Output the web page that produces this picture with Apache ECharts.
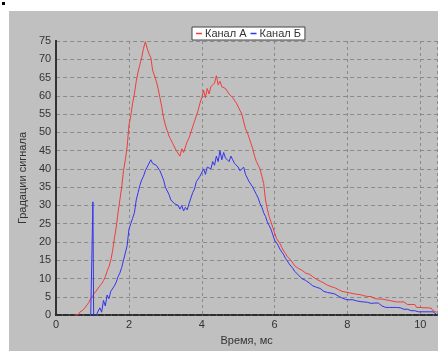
<!DOCTYPE html>
<html>
<head>
<meta charset="utf-8">
<script src="https://cdn.jsdelivr.net/npm/echarts@6/dist/echarts.min.js"></script>
<style>
html,body{margin:0;padding:0;background:#fff;width:438px;height:351px;overflow:hidden;}
#dot{position:absolute;left:2px;top:2px;width:3px;height:3px;background:#000;}
#chart{position:absolute;left:9px;top:11px;width:429px;height:340px;background:#c0c0c0;}
</style>
</head>
<body>
<div id="dot"></div>
<div id="chart"></div>
<script>
// Time, ms
var times = [
0.50,0.55,0.60,0.65,0.70,0.75,0.80,0.85,0.90,0.95,
1.00,1.01,1.02,1.03,1.05,1.10,1.15,1.20,1.25,1.30,1.35,1.40,1.45,1.50,1.55,1.60,1.65,1.70,1.75,1.80,1.85,1.90,1.95,
2.00,2.05,2.10,2.15,2.20,2.25,2.30,2.35,2.40,2.45,2.50,2.55,2.60,2.65,2.70,2.75,2.80,2.85,2.90,2.95,
3.00,3.05,3.10,3.15,3.20,3.25,3.30,3.35,3.40,3.45,3.50,3.55,3.60,3.65,3.70,3.75,3.80,3.85,3.90,3.95,
4.00,4.05,4.10,4.15,4.20,4.25,4.30,4.35,4.40,4.45,4.50,4.55,4.60,4.65,4.70,4.75,4.80,4.85,4.90,4.95,
5.00,5.05,5.10,5.15,5.20,5.25,5.30,5.35,5.40,5.45,5.50,5.55,5.60,5.65,5.70,5.75,5.80,5.85,5.90,5.95,
6.00,6.05,6.10,6.15,6.20,6.25,6.30,6.35,6.40,6.45,6.50,6.55,6.60,6.65,6.70,6.75,6.80,6.85,6.90,6.95,
7.00,7.05,7.10,7.15,7.20,7.25,7.30,7.35,7.40,7.45,7.50,7.55,7.60,7.65,7.70,7.75,7.80,7.85,7.90,7.95,
8.00,8.05,8.10,8.15,8.20,8.25,8.30,8.35,8.40,8.45,8.50,8.55,8.60,8.65,8.70,8.75,8.80,8.85,8.90,8.95,
9.00,9.05,9.10,9.15,9.20,9.25,9.30,9.35,9.40,9.45,9.50,9.55,9.60,9.65,9.70,9.75,9.80,9.85,9.90,9.95,
10.00,10.05,10.10,10.15,10.20,10.25,10.30,10.35,10.40,10.45
];
// Канал А (red)
var channelA = [
0,0,0,0.8,1.0,1.5,2.0,2.8,3.5,4.6,
5.2,5.3,5.4,5.5,6.0,6.6,7.0,8.0,8.6,9.4,10.5,12.0,13.2,15.0,17.5,21.0,24.0,28.0,31.5,35.0,39.5,42.5,46.0,
52.0,54.5,58.0,60.5,64.0,66.5,68.5,70.5,73.0,74.8,73.0,71.5,70.5,67.0,66.5,64.0,62.0,59.5,57.0,54.0,
52.0,50.5,49.0,48.0,47.0,46.5,45.0,44.5,43.5,45.5,44.5,46.0,47.5,48.5,50.0,51.5,53.0,54.5,56.0,58.0,
59.5,61.5,59.5,62.0,60.5,62.5,62.0,63.5,65.5,63.0,64.0,62.5,63.0,62.0,62.0,60.5,60.5,59.5,59.5,58.0,
57.5,56.0,55.0,53.0,51.0,50.0,48.5,47.0,45.5,43.5,42.0,41.0,40.0,38.0,36.0,31.5,29.0,27.0,25.5,24.0,
22.5,21.0,20.5,19.5,18.5,17.5,16.8,16.0,15.5,15.0,14.5,13.5,13.0,12.8,12.5,12.3,12.0,11.5,11.5,11.2,
11.0,10.5,10.2,9.8,9.6,9.3,9.0,8.8,8.5,8.2,7.9,7.8,7.5,7.5,7.2,7.0,6.8,6.5,6.4,6.3,
6.2,6.1,6.0,5.9,5.8,5.7,5.6,5.6,5.6,5.3,5.3,5.1,5.1,5.1,5.1,4.5,4.5,4.4,4.4,4.4,
4.4,4.2,4.2,4.0,4.0,3.8,3.8,3.6,3.6,3.6,3.6,3.6,3.6,2.9,2.9,2.9,2.9,2.9,2.1,2.1,
2.1,2.0,2.0,2.0,2.0,1.9,1.9,1.2,1.2,0.8
];
// Канал Б (blue)
var channelB = [
null,null,null,null,null,null,null,null,null,0,
0,31,15.5,0,0,0,0.5,2.0,0.8,4.0,2.5,5.5,4.5,6.5,7.0,8.0,9.0,10.5,11.5,13.0,15.0,17.0,19.0,
23.5,25.0,26.5,28.0,31.5,33.5,35.5,37.0,38.0,39.5,40.5,41.0,42.5,41.5,42.0,41.0,40.5,39.5,39.0,37.0,
35.0,34.0,33.0,31.5,32.0,30.5,31.0,30.0,29.0,30.0,28.5,29.5,28.8,30.5,32.0,33.5,34.5,36.5,36.0,38.0,
38.5,40.0,38.5,40.5,41.0,40.0,42.0,41.0,43.5,42.0,45.0,42.5,44.5,43.0,43.5,42.0,43.5,42.5,41.5,41.0,
40.5,39.5,40.0,40.5,38.5,37.5,36.5,36.0,35.0,34.0,33.0,32.0,30.5,29.5,28.0,27.0,25.5,24.5,23.5,22.0,
20.5,19.8,19.0,18.0,17.2,16.5,15.5,14.8,14.0,13.4,12.8,12.0,11.5,11.0,10.6,10.0,9.8,9.5,9.0,8.8,
8.5,8.0,7.8,7.6,7.4,7.3,6.8,6.5,6.2,6.2,6.0,6.0,6.2,5.8,5.5,5.2,5.0,4.7,4.5,4.3,
4.3,4.2,4.2,4.2,3.9,3.9,3.9,3.7,3.7,3.6,3.5,3.5,3.5,3.2,3.2,3.3,3.3,3.3,3.0,2.5,
2.1,2.1,2.1,2.1,2.1,2.1,2.1,2.1,2.0,2.0,1.8,1.6,1.6,1.6,1.6,1.2,1.6,1.2,1.2,0.9,
0.9,0.9,0.9,0.9,0.9,0.9,0.9,0.9,0.6,0.2
];
var seriesNames = ['Канал А', 'Канал Б'];
var xTitle = 'Время, мс';
var yTitle = 'Градации сигнала';

function pairs(vals){
  var out = [];
  for (var i = 0; i < times.length; i++) out.push([times[i], vals[i]]);
  return out;
}

var FONT = 'Liberation Sans';
var chart = echarts.init(document.getElementById('chart'), null, {renderer:'canvas'});
chart.setOption({
  animation: false,
  backgroundColor: '#c0c0c0',
  textStyle: {fontFamily: FONT},
  legend: {
    data: seriesNames,
    left: 183, top: 16,
    backgroundColor: '#ffffff',
    borderColor: '#444',
    borderWidth: 1,
    padding: [1, 4, 1, 4],
    itemWidth: 6, itemHeight: 1.5,
    itemGap: 4,
    icon: 'rect',
    textStyle: {fontFamily: FONT, fontSize: 11, color: '#333', padding: [0,0,0,-2]}
  },
  grid: {left: 45, top: 30, right: 1, bottom: 35, containLabel: false},
  xAxis: [{
    type: 'value', min: 0, max: 10.46, interval: 2,
    name: xTitle, nameLocation: 'middle', nameGap: 18,
    nameTextStyle: {fontFamily: FONT, fontSize: 11, color: '#333'},
    axisLine: {show: true, onZero: false, lineStyle: {color: '#222', width: 2, type: [5, 2]}},
    axisTick: {show: false},
    axisLabel: {fontFamily: FONT, fontSize: 11, color: '#333', margin: 4, showMaxLabel: false},
    splitLine: {show: true, lineStyle: {color: '#8a8a8a', type: [3, 3], width: 1}}
  }, {
    type: 'value', min: 0, max: 10.46, position: 'top',
    axisLine: {show: true, lineStyle: {color: '#333', width: 1.5, type: [5, 2]}},
    axisTick: {show: false}, axisLabel: {show: false}, splitLine: {show: false}
  }],
  yAxis: [{
    type: 'value', min: 0, max: 75, interval: 5,
    name: yTitle, nameLocation: 'middle', nameGap: 23,
    nameTextStyle: {fontFamily: FONT, fontSize: 11, color: '#333'},
    axisLine: {show: true, lineStyle: {color: '#000', width: 2}},
    axisTick: {show: false},
    axisLabel: {fontFamily: FONT, fontSize: 11, color: '#333', margin: 5},
    splitLine: {show: true, lineStyle: {color: '#8a8a8a', type: [4, 3], width: 1}}
  }, {
    type: 'value', min: 0, max: 75, position: 'right',
    axisLine: {show: true, lineStyle: {color: '#444', width: 1.5}},
    axisTick: {show: false}, axisLabel: {show: false}, splitLine: {show: false}
  }],
  series: [{
    name: seriesNames[0], type: 'line', data: pairs(channelA),
    showSymbol: false, symbol: 'none', color: '#f03c3c',
    lineStyle: {width: 1, color: '#f03c3c'}, z: 3
  }, {
    name: seriesNames[1], type: 'line', data: pairs(channelB),
    showSymbol: false, symbol: 'none', color: '#3333f0', connectNulls: false,
    lineStyle: {width: 1, color: '#3333f0'}, z: 4
  }]
});
</script>
</body>
</html>
